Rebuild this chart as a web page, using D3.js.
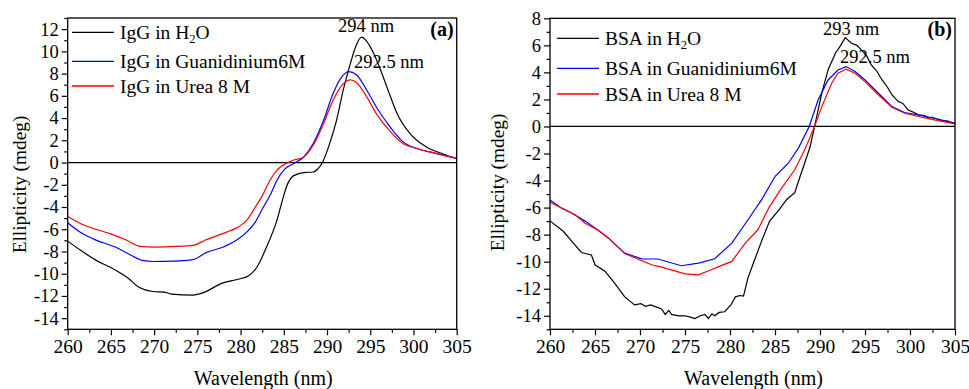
<!DOCTYPE html>
<html><head><meta charset="utf-8">
<script src="https://cdn.jsdelivr.net/npm/d3@7"></script>
<style>
body{margin:0;background:#fff;}
svg{display:block;font-family:"Liberation Serif","Times New Roman",serif;}
</style></head>
<body><svg id="c" width="969" height="389"></svg>
<script>
// ---- Data: panel (a) IgG ----
const iggH2O_x = [260,261.5,263.3,265.3,267,268.2,269.9,271.1,272,274.5,275.7,277.8,279.7,280.9,281.9,283,284.2,284.8,285.3,286.1,287.3,288.4,288.9,289.5,290.3,291.1,291.9,292.7,293.3,294,294.6,295.4,296.4,297.3,298.1,299.6,301.5,303.5,305];
const iggH2O_y = [-7.07,-7.9,-8.8,-9.57,-10.4,-11.2,-11.6,-11.65,-11.83,-11.92,-11.7,-10.87,-10.5,-10.2,-9.4,-7.6,-5.2,-3.5,-2.2,-1.2,-0.9,-0.85,-0.6,0.05,1.7,3.8,6.6,8.9,10.4,11.28,10.9,9.8,7.9,6.0,4.4,2.6,1.4,0.75,0.36];
const iggGua_x = [260,261.5,263.35,265.5,267,268.6,269.9,272.2,274.5,276,278,279.5,280.7,281.7,282.5,283.5,284.2,285.1,286.1,287.3,288.4,289.6,290.7,291.7,292.5,293.4,294.6,295.7,297.3,298.8,300.4,302.7,305];
const iggGua_y = [-5.42,-6.3,-7.0,-7.6,-8.2,-8.8,-8.9,-8.87,-8.73,-8.1,-7.6,-7.0,-6.26,-5.36,-4.2,-2.8,-1.6,-0.6,-0.1,0.5,1.7,3.8,6.2,7.7,8.18,7.9,6.5,5.0,3.2,1.86,1.26,0.8,0.36];
const iggUrea_x = [260,261.8,264.9,266.7,268.4,270.1,272.5,274.5,276,278.4,279.5,280.7,281.7,282.5,283.4,284.2,284.9,286.1,287.3,288.4,289.6,290.7,291.9,292.7,293.4,294.6,295.7,297.3,298.8,300.4,302.7,305];
const iggUrea_y = [-4.85,-5.6,-6.4,-6.95,-7.55,-7.6,-7.55,-7.46,-6.95,-6.26,-5.9,-5.2,-4.0,-3.0,-1.6,-0.7,-0.25,0.2,0.5,1.55,3.5,5.6,7.1,7.43,7.2,5.9,4.4,2.8,1.7,1.26,0.8,0.36];

// ---- Data: panel (b) BSA ----
const bsaH2O_x = [260,261.5,262.6,263.5,264.6,265,266.1,267.2,268.3,269.4,270.1,270.6,271.2,272,272.4,272.8,273.2,273.5,274.3,275,275.6,276.1,276.7,277.2,277.6,278,278.3,278.8,279.4,280.1,280.6,281.1,281.5,282,282.6,283.5,284.4,285.4,286.3,287.2,287.6,288.3,288.9,289.4,290.2,290.9,291.7,292.3,292.8,293.5,294.1,294.6,295.2,295.7,296.3,296.9,297.5,298,298.7,299.2,299.8,300.4,300.9,301.6,302.1,302.4,303,303.5,304.2,305];
const bsaH2O_y = [-6.98,-7.77,-8.63,-9.32,-9.5,-10.23,-10.7,-11.6,-12.6,-13.2,-13.1,-13.3,-13.2,-13.4,-13.5,-13.9,-13.6,-13.9,-14.0,-14.0,-14.1,-14.2,-14.0,-13.9,-14.2,-13.85,-14.0,-13.75,-13.7,-13.2,-12.6,-12.5,-12.55,-11.2,-10.1,-8.5,-7.0,-6.2,-5.4,-4.9,-4.07,-2.7,-1.5,0,2.46,4.2,5.4,6.0,6.57,6.15,6.0,5.66,5.2,4.55,4.1,3.44,2.9,2.33,1.84,1.7,1.22,1.05,0.86,0.8,0.6,0.69,0.55,0.44,0.4,0.19];
const bsaGua_x = [260,261.3,262.4,263.9,265.4,266.5,268.3,270.2,272,274.6,276.5,278.3,280.2,282,283.5,285,286.5,287.6,288.8,289.8,290.9,292,292.9,293.9,295,296.5,298,299.4,300.9,302.7,305];
const bsaGua_y = [-5.43,-6.04,-6.4,-7.0,-7.7,-8.26,-9.37,-9.79,-9.8,-10.3,-10.1,-9.78,-8.63,-6.9,-5.43,-3.7,-2.7,-1.6,0,1.97,3.44,4.18,4.43,4.06,3.44,2.46,1.47,1.03,0.86,0.61,0.25];
const bsaUrea_x = [260,262.8,263.9,265.4,266.5,268.3,270.2,271.3,272.4,275,276.5,277.9,278.6,280.2,281.7,283.1,284.3,285.6,287.2,288.3,289.4,290.2,291.3,292,292.9,293.9,295,296.5,298,299.4,300.9,302.7,305];
const bsaUrea_y = [-5.6,-6.53,-7.15,-7.7,-8.26,-9.4,-9.93,-10.23,-10.4,-10.9,-10.97,-10.6,-10.4,-9.98,-8.63,-7.64,-6.04,-4.69,-3.2,-1.73,0,1.47,3.2,3.94,4.23,3.94,3.32,2.33,1.42,0.98,0.74,0.49,0.19];

// ---- Ticks / labels ----
const xTicks = [260,265,270,275,280,285,290,295,300,305];
const yTicksA = [-14,-12,-10,-8,-6,-4,-2,0,2,4,6,8,10,12];
const yTicksB = [-14,-12,-10,-8,-6,-4,-2,0,2,4,6,8];
const legendA = ["IgG in H|2|O","IgG in Guanidinium6M","IgG in Urea 8 M"];
const legendB = ["BSA in H|2|O","BSA in Guanidinium6M","BSA in Urea 8 M"];
const colors = ["#000000","#0000ff","#ff0000"];

const svg = d3.select("#c");

function panel(opt){
  const g = svg.append("g");
  const x = d3.scaleLinear().domain([260,305]).range([opt.x0,opt.x1]);
  const y = d3.scaleLinear().domain(opt.yDom).range([opt.yb,opt.yt]);

  g.append("line").attr("x1",x(260)).attr("x2",x(305)).attr("y1",y(0)).attr("y2",y(0))
    .attr("stroke","#000").attr("stroke-width",1.2);

  opt.series.forEach((s,i)=>{
    const pts = s[0].map((d,j)=>[d,s[1][j]]);
    g.append("path").datum(pts)
      .attr("fill","none").attr("stroke",colors[i]).attr("stroke-width",1.2)
      .attr("d", d3.line().x(d=>x(d[0])).y(d=>y(d[1])).curve(opt.curve)(pts));
  });

  g.append("rect").attr("x",opt.x0).attr("y",opt.yt).attr("width",opt.x1-opt.x0).attr("height",opt.yb-opt.yt)
    .attr("fill","none").attr("stroke","#000").attr("stroke-width",1.3);

  const xa = g.append("g").attr("transform",`translate(0,${opt.yb})`)
    .call(d3.axisBottom(x).tickValues(xTicks).tickSize(6).tickPadding(4).tickFormat(d3.format("d")));
  xa.select(".domain").remove();
  xa.selectAll("text").attr("font-size","19.5px").attr("font-family","Liberation Serif").attr("fill","#000");
  xa.selectAll("line").attr("stroke-width",1.2);
  const xm = g.append("g").attr("transform",`translate(0,${opt.yb})`)
    .call(d3.axisBottom(x).tickValues(d3.range(262.5,305,5)).tickSize(3.5).tickFormat(""));
  xm.select(".domain").remove(); xm.selectAll("line").attr("stroke-width",1.2);

  const ya = g.append("g").attr("transform",`translate(${opt.x0},0)`)
    .call(d3.axisLeft(y).tickValues(opt.yTicks).tickSize(6).tickPadding(3).tickFormat(d=>String(d)));
  ya.select(".domain").remove();
  ya.selectAll("text").attr("font-size","18.5px").attr("font-family","Liberation Serif").attr("fill","#000");
  ya.selectAll("line").attr("stroke-width",1.2);
  const yminor = d3.range(-15,opt.yDom[1]+0.1,2);
  const ym = g.append("g").attr("transform",`translate(${opt.x0},0)`)
    .call(d3.axisLeft(y).tickValues(yminor).tickSize(3.5).tickFormat(""));
  ym.select(".domain").remove(); ym.selectAll("line").attr("stroke-width",1.2);

  g.append("text").attr("x",(opt.x0+opt.x1)/2 + 1).attr("y",385).attr("text-anchor","middle")
    .attr("font-size","20px").text("Wavelength (nm)");
  g.append("text").attr("transform",`translate(${opt.ytx},${opt.yty}) rotate(-90)`).attr("text-anchor","middle")
    .attr("font-size","19.3px").text("Ellipticity (mdeg)");

  opt.legend.forEach((t,i)=>{
    const ly = opt.legY[i];
    g.append("line").attr("x1",opt.legX).attr("x2",opt.legX+42).attr("y1",ly).attr("y2",ly)
      .attr("stroke",colors[i]).attr("stroke-width",1.3);
    const tx = g.append("text").attr("x",opt.legX+48).attr("y",ly+7).attr("font-size","19.5px");
    const parts = t.split("|");
    tx.append("tspan").text(parts[0]);
    if(parts.length>1){
      tx.append("tspan").attr("font-size","12.5px").attr("dy",4).text(parts[1]);
      tx.append("tspan").attr("dy",-4).text(parts[2]);
    }
  });

  opt.notes.forEach(n=>{
    g.append("text").attr("x",n[0]).attr("y",n[1]).attr("font-size","18.5px").text(n[2]);
  });
  g.append("text").attr("x",opt.x1-3).attr("y",opt.tagY).attr("text-anchor","end")
    .attr("font-size","20px").attr("font-weight","bold").text(opt.tag);
}

panel({x0:67.7,x1:456.7,yt:18,yb:329.3,yDom:[-15,13],yTicks:yTicksA,
  series:[[iggH2O_x,iggH2O_y],[iggGua_x,iggGua_y],[iggUrea_x,iggUrea_y]],
  curve:d3.curveMonotoneX,legend:legendA,legX:72,legY:[32.3,61.3,86],
  notes:[[338,32],[354,68.3]].map((p,i)=>[p[0],p[1],["294 nm","292.5 nm"][i]]),
  tag:"(a)",tagY:36,ytx:26,yty:184.5});

panel({x0:550,x1:955,yt:18.3,yb:329.3,yDom:[-15,8],yTicks:yTicksB,
  series:[[bsaH2O_x,bsaH2O_y],[bsaGua_x,bsaGua_y],[bsaUrea_x,bsaUrea_y]],
  curve:d3.curveLinear,legend:legendB,legX:557,legY:[38.3,68.3,94],
  notes:[[823,35],[840,62.7]].map((p,i)=>[p[0],p[1],["293 nm","292.5 nm"][i]]),
  tag:"(b)",tagY:36,ytx:504,yty:182.5});
</script></body></html>
